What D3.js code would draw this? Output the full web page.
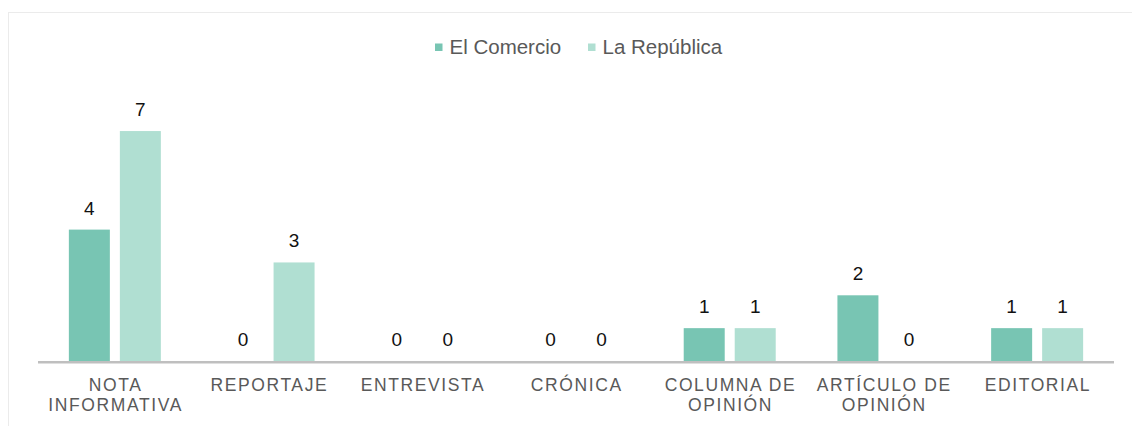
<!DOCTYPE html>
<html>
<head>
<meta charset="utf-8">
<script src="https://cdn.jsdelivr.net/npm/d3@7"></script>
<style>
  body { margin: 0; background: #fff; }
  svg { display: block; font-family: "Liberation Sans", Arial, sans-serif; }
</style>
</head>
<body>
<div id="chart"></div>
<script>
// categories and series
const categories = [
    ["NOTA", "INFORMATIVA"],
    ["REPORTAJE"],
    ["ENTREVISTA"],
    ["CRÓNICA"],
    ["COLUMNA DE", "OPINIÓN"],
    ["ARTÍCULO DE", "OPINIÓN"],
    ["EDITORIAL"]
];
const seriesNames = ["El Comercio", "La República"];
const elComercio = [4, 0, 0, 0, 1, 2, 1];
const laRepublica = [7, 3, 0, 0, 1, 0, 1];
const colors = ["#78c5b3", "#b0dfd2"];

const W = 1132, H = 426;
const svg = d3.select("#chart").append("svg")
    .attr("width", W)
    .attr("height", H);

// chart area frame
svg.append("rect")
    .attr("x", 8.5).attr("y", 12.5)
    .attr("width", W).attr("height", H)
    .attr("fill", "none")
    .attr("stroke", "#ebebeb");

const left = 38, right = 1114, baseline = 361;

const x0 = d3.scaleBand()
    .domain(d3.range(categories.length))
    .range([left, right]);

// two bars 41px wide, 10px apart, centred in each band
const x1 = d3.scaleBand()
    .domain([0, 1])
    .range([x0.bandwidth() / 2 - 46, x0.bandwidth() / 2 + 46])
    .paddingInner(10 / 51);

const y = d3.scaleLinear()
    .domain([0, 7])
    .range([baseline, baseline - 7 * 32.85]);

const rows = categories.map((c, i) => ({ i, values: [elComercio[i], laRepublica[i]] }));

const groups = svg.append("g").selectAll("g")
    .data(rows)
    .join("g")
    .attr("transform", d => `translate(${x0(d.i)},0)`);

groups.selectAll("rect")
    .data(d => d.values.map((v, s) => ({ v, s })))
    .join("rect")
    .attr("x", d => x1(d.s))
    .attr("width", x1.bandwidth())
    .attr("y", d => y(d.v))
    .attr("height", d => baseline - y(d.v))
    .attr("fill", d => colors[d.s]);

groups.selectAll("text.val")
    .data(d => d.values.map((v, s) => ({ v, s })))
    .join("text")
    .attr("class", "val")
    .attr("x", d => x1(d.s) + x1.bandwidth() / 2)
    .attr("y", d => y(d.v) - 15)
    .attr("text-anchor", "middle")
    .attr("font-size", 19)
    .attr("fill", "#111")
    .text(d => d.v);

// axis line
svg.append("line")
    .attr("x1", left).attr("x2", right)
    .attr("y1", baseline + 1.3).attr("y2", baseline + 1.3)
    .attr("stroke", "#bfbfbf")
    .attr("stroke-width", 2.5);

// category labels
const lab = svg.append("g").selectAll("text")
    .data(categories)
    .join("text")
    .attr("text-anchor", "middle")
    .attr("font-size", 17.5)
    .attr("letter-spacing", 1.6)
    .attr("fill", "#595959")
    .attr("transform", (d, i) => `translate(${x0(i) + x0.bandwidth() / 2 + 0.8},391)`);

lab.selectAll("tspan")
    .data(d => d)
    .join("tspan")
    .attr("x", 0)
    .attr("dy", (d, j) => j === 0 ? 0 : 20)
    .text(d => d);

// legend
const legend = svg.append("g").attr("transform", "translate(435,0)");
const legendX = [0, 153];
seriesNames.forEach((name, s) => {
    legend.append("rect")
        .attr("x", legendX[s]).attr("y", 43.5)
        .attr("width", 7.5).attr("height", 7.5)
        .attr("fill", colors[s]);
    legend.append("text")
        .attr("x", legendX[s] + 14.5).attr("y", 54)
        .attr("font-size", 20.5)
        .attr("fill", "#595959")
        .text(name);
});
</script>
</body>
</html>
